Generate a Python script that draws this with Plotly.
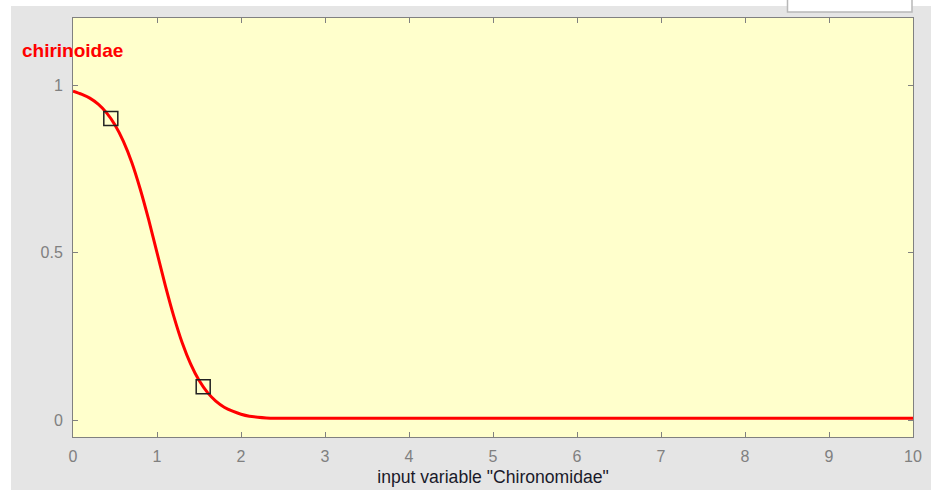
import plotly.graph_objects as go

# membership curve
x_vals = [0.0, 0.1, 0.2, 0.3, 0.4, 0.5, 0.6, 0.7, 0.8, 0.9, 1.0, 1.1, 1.2, 1.3,
          1.4, 1.5, 1.6, 1.7, 1.8, 1.9, 2.0, 2.1, 2.2, 2.3, 2.4, 3, 4, 5, 6, 7, 8, 9, 10]
y_vals = [0.982, 0.973, 0.961, 0.943, 0.917, 0.881, 0.832, 0.769, 0.690, 0.599,
          0.500, 0.401, 0.310, 0.231, 0.168, 0.119, 0.083, 0.057, 0.039, 0.027,
          0.018, 0.012, 0.009, 0.007, 0.006, 0.006, 0.006, 0.006, 0.006, 0.006,
          0.006, 0.006, 0.006]

# square handle markers
marker_x = [0.45, 1.55]
marker_y = [0.9, 0.1]

x_ticks = [0, 1, 2, 3, 4, 5, 6, 7, 8, 9, 10]
y_ticks = [0, 0.5, 1]
y_tick_labels = ["0", "0.5", "1"]

mf_name = "chirinoidae"
x_title = 'input variable "Chironomidae"'

W, H = 931, 490
L, R, T, B = 73, 18, 18, 53
PW, PH = W - L - R, H - T - B


def px(p):
    return (p - L) / PW


def py(q):
    return (H - B - q) / PH


fig = go.Figure()
fig.add_trace(go.Scatter(x=x_vals, y=y_vals, mode="lines",
                         line=dict(color="#ff0000", width=3, shape="spline", smoothing=0.6),
                         hoverinfo="skip", showlegend=False))
fig.add_trace(go.Scatter(x=marker_x, y=marker_y, mode="markers",
                         marker=dict(symbol="square-open", size=14, color="#222222",
                                     line=dict(width=1.5, color="#222222")),
                         showlegend=False))

axis_common = dict(showline=True, linecolor="#808080", linewidth=1, mirror="allticks",
                   ticks="inside", ticklen=5, tickcolor="#808080", tickwidth=1,
                   showgrid=False, zeroline=False, automargin=False,
                   tickfont=dict(family="Liberation Sans, Arial, sans-serif", size=16, color="#808080"))

fig.update_xaxes(range=[0, 10], tickvals=x_ticks, ticklabelstandoff=5,
                 title=dict(text=x_title, standoff=6,
                            font=dict(family="Liberation Sans, Arial, sans-serif", size=17.6, color="#1a1a2a")),
                 **axis_common)
fig.update_yaxes(range=[-0.05, 1.2], tickvals=y_ticks, ticktext=y_tick_labels,
                 ticklabelstandoff=6, **axis_common)

shapes = [
    # white strips at left and top
    dict(type="rect", xref="paper", yref="paper", x0=px(0), x1=px(11), y0=py(490), y1=py(0),
         fillcolor="white", line=dict(width=0), layer="below"),
    dict(type="rect", xref="paper", yref="paper", x0=px(0), x1=px(931), y0=py(6), y1=py(0),
         fillcolor="white", line=dict(width=0), layer="below"),
    # white box at top right
    dict(type="rect", xref="paper", yref="paper", x0=px(787.5), x1=px(912), y0=py(12), y1=py(-3),
         fillcolor="white", line=dict(width=1.5, color="#b8b8b8"), layer="below"),
]

fig.update_layout(
    width=W, height=H,
    margin=dict(l=L, r=R, t=T, b=B, pad=0),
    paper_bgcolor="#e5e5e5",
    plot_bgcolor="#ffffcc",
    shapes=shapes,
    annotations=[dict(text="<b>" + mf_name + "</b>", xref="paper", yref="paper",
                      x=px(20), y=py(50), xanchor="left", yanchor="middle", showarrow=False,
                      font=dict(family="Liberation Sans, Arial, sans-serif", size=19, color="#ff0000"))],
    showlegend=False,
)

fig.write_html("out.html", config={"displayModeBar": False})
